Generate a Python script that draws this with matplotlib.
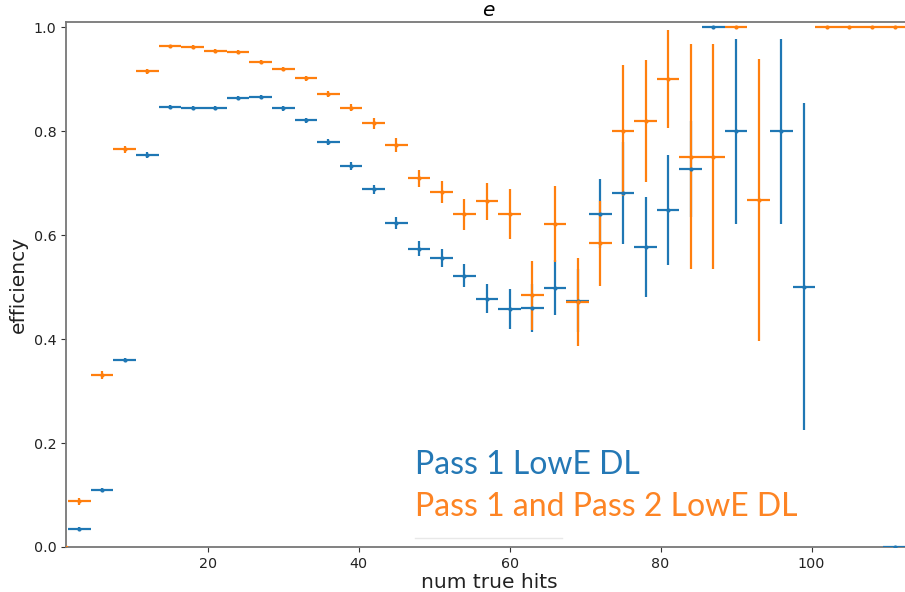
import numpy as np
import matplotlib
matplotlib.use("Agg")
import matplotlib.pyplot as plt
from matplotlib.lines import Line2D

# bin centres (num true hits), bins are 3 wide
hits = np.arange(0, 112, 3)
half_width = 1.5

nan = np.nan
# Pass 1 LowE DL
eff_pass1 = [nan, 0.035, 0.109, 0.359, 0.754, 0.846, 0.845, 0.845, 0.864, 0.865,
             0.844, 0.821, 0.779, 0.733, 0.688, 0.623, 0.574, 0.556, 0.522, 0.478,
             0.458, 0.460, 0.499, 0.474, 0.641, 0.681, 0.577, 0.649, 0.727, 1.0,
             0.80, nan, 0.80, 0.50, nan, nan, nan, 0.0]
err_pass1_lo = [0, 0.003, 0.004, 0.004, 0.005, 0.004, 0.004, 0.004, 0.004, 0.004,
                0.005, 0.005, 0.006, 0.008, 0.009, 0.012, 0.015, 0.017, 0.022, 0.028,
                0.038, 0.046, 0.053, 0.060, 0.066, 0.098, 0.097, 0.106, 0.093, 0.0,
                0.178, 0, 0.178, 0.274, 0, 0, 0, 0.0]
err_pass1_hi = [0, 0.003, 0.004, 0.004, 0.005, 0.004, 0.004, 0.004, 0.004, 0.004,
                0.005, 0.005, 0.006, 0.008, 0.009, 0.012, 0.015, 0.017, 0.022, 0.028,
                0.038, 0.046, 0.053, 0.060, 0.066, 0.098, 0.097, 0.106, 0.093, 0.0,
                0.178, 0, 0.178, 0.354, 0, 0, 0, 0.0]

# Pass 1 and Pass 2 LowE DL
eff_pass12 = [0.0, 0.088, 0.331, 0.765, 0.915, 0.963, 0.962, 0.955, 0.953, 0.933,
              0.920, 0.902, 0.871, 0.845, 0.815, 0.773, 0.709, 0.683, 0.640, 0.665,
              0.640, 0.484, 0.621, 0.471, 0.584, 0.801, 0.819, 0.900, 0.751, 0.751,
              1.0, 0.667, nan, nan, 1.0, 1.0, 1.0, 1.0]
err_pass12 = [0.0, 0.007, 0.008, 0.007, 0.005, 0.003, 0.003, 0.003, 0.003, 0.004,
              0.004, 0.005, 0.006, 0.007, 0.011, 0.014, 0.017, 0.021, 0.030, 0.035,
              0.048, 0.066, 0.073, 0.085, 0.081, 0.126, 0.117, 0.094, 0.216, 0.216,
              0.0, 0.271, 0, 0, 0.0, 0.0, 0.0, 0.0]

blue = "#1f77b4"
orange = "#ff7f0e"

fig = plt.figure(figsize=(9.05, 5.92), dpi=100)
W, H = 905, 592
ax = fig.add_axes([66 / W, (H - 547) / H, (912 - 66) / W, (547 - 22) / H])

ax.errorbar(hits, eff_pass1, yerr=[err_pass1_lo, err_pass1_hi], xerr=half_width,
            fmt="o", ms=3, mew=0, color=blue, elinewidth=1.6, zorder=3)
ax.errorbar(hits, eff_pass12, yerr=err_pass12, xerr=half_width, fmt="o", ms=3,
            mew=0, color=orange, elinewidth=1.6, zorder=3)

ax.set_xlim(1.23, 113.3)
ax.set_ylim(0, 1.01)
ax.set_xticks([20, 40, 60, 80, 100])
ax.set_yticks([0.0, 0.2, 0.4, 0.6, 0.8, 1.0])
ax.tick_params(labelsize=10.3, colors="#333333", labelcolor="#222222")
for s in ax.spines.values():
    s.set_color("#777777")
    s.set_linewidth(1.3)

ax.set_xlabel("num true hits", fontsize=14.5, color="#222222", labelpad=1.5)
ax.set_ylabel("efficiency", fontsize=14.5, color="#222222")
ax.set_title("$e$", fontsize=14.5, pad=4)

# overlaid legend text
fig.text(415 / W, 1 - 474 / H, "Pass 1 LowE DL", color="#2478b5",
         fontsize=23, family="Lato", va="baseline")
fig.text(415 / W, 1 - 516.5 / H, "Pass 1 and Pass 2 LowE DL", color="#fd8424",
         fontsize=23, family="Lato", va="baseline")
fig.add_artist(Line2D([415 / W, 562 / W], [1 - 538 / H, 1 - 538 / H],
                      color="#e8e8e8", lw=1))

fig.savefig("out.png", dpi=100)
